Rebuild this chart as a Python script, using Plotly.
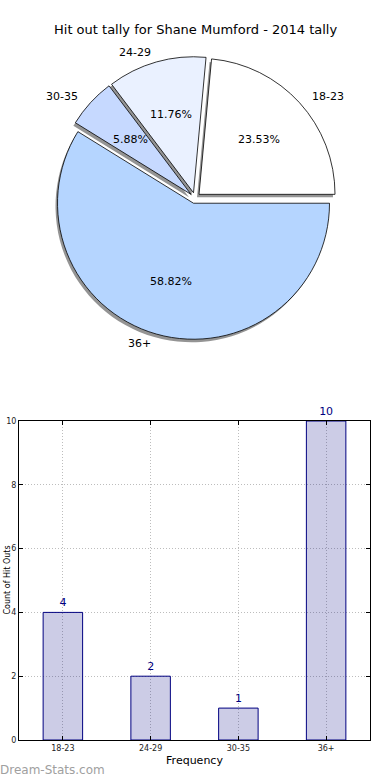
import math
import plotly.graph_objects as go

# ---- data ----
categories = ["18-23", "24-29", "30-35", "36+"]
counts = [4, 2, 1, 10]
pie_colors = ["#FFFFFF", "#EAF1FF", "#C6D9FF", "#B5D5FF"]
title_text = "Hit out tally for Shane Mumford - 2014 tally"
y_title = "Count of Hit Outs"
x_title = "Frequency"
watermark = "Dream-Stats.com"

W, H = 390, 780
FONT = "DejaVu Sans"

# ---- pie geometry (pixels) ----
cx, cy = 195.0, 198.0      # pie centre
R = 136.0                  # pie radius
pull = 0.04
half = R * (1 + pull)
total = sum(counts)
# plotly (counterclockwise): first slice occupies [rotation, rotation + a0] clockwise from 12 o'clock
rotation = 90 - 360 * counts[0] / total

def px_to_paper(x, y):
    return x / W, 1 - y / H

dom_x = [(cx - half) / W, (cx + half) / W]
dom_y = [1 - (cy + half) / H, 1 - (cy - half) / H]
sdx, sdy = -2.0 / W, -3.0 / H
shadow_dom_x = [dom_x[0] + sdx, dom_x[1] + sdx]
shadow_dom_y = [dom_y[0] + sdy, dom_y[1] + sdy]

fig = go.Figure()

fig.add_trace(go.Pie(
    labels=categories, values=counts, sort=False, direction="counterclockwise",
    rotation=rotation, pull=[pull] * len(counts),
    marker=dict(colors=["rgba(90,90,90,0.65)"] * len(counts), line=dict(width=0)),
    textinfo="none", hoverinfo="skip", showlegend=False,
    domain=dict(x=shadow_dom_x, y=shadow_dom_y)))

fig.add_trace(go.Pie(
    labels=categories, values=counts, sort=False, direction="counterclockwise",
    rotation=rotation, pull=[pull] * len(counts),
    marker=dict(colors=pie_colors, line=dict(color="black", width=0.8)),
    textinfo="none", showlegend=False,
    domain=dict(x=dom_x, y=dom_y)))

annotations = []
start = 0.0
for lab, v in zip(categories, counts):
    frac = v / total
    mid = math.radians(360 * (start + frac / 2))
    start += frac
    ox = cx + pull * R * math.cos(mid)
    oy = cy - pull * R * math.sin(mid)
    # outer label
    lx = ox + 1.1 * R * math.cos(mid)
    ly = oy - 1.07 * R * math.sin(mid)
    px, py = px_to_paper(lx, ly)
    annotations.append(dict(x=px, y=py, xref="paper", yref="paper", text=lab,
                            showarrow=False,
                            xanchor="left" if math.cos(mid) > 0 else "right",
                            yanchor="middle",
                            font=dict(family=FONT, size=11, color="black")))
    # percentage
    tx = ox + 0.6 * R * math.cos(mid)
    ty = oy - 0.6 * R * math.sin(mid)
    px, py = px_to_paper(tx, ty)
    annotations.append(dict(x=px, y=py, xref="paper", yref="paper",
                            text=f"{100 * frac:.2f}%", showarrow=False,
                            xanchor="center", yanchor="middle",
                            font=dict(family=FONT, size=11, color="black")))

# title
annotations.append(dict(x=0.5, y=1 - 30 / H, xref="paper", yref="paper",
                        text=title_text, showarrow=False, xanchor="center",
                        yanchor="middle",
                        font=dict(family=FONT, size=13, color="black")))
# y-axis title, hugging the left edge
annotations.append(dict(x=0, y=1 - 580 / H, xref="paper", yref="paper",
                        text=y_title, showarrow=False, textangle=-90,
                        xanchor="left", yanchor="middle",
                        font=dict(family=FONT, size=8, color="black")))
# watermark
annotations.append(dict(x=-2 / W, y=1 - 770 / H, xref="paper", yref="paper",
                        text=watermark, showarrow=False, xanchor="left",
                        yanchor="middle",
                        font=dict(family=FONT, size=12, color="#A0A0A0")))

# ---- bar chart ----
fig.add_trace(go.Bar(
    x=categories, y=counts, width=0.45,
    marker=dict(color="rgba(0,0,128,0.2)", line=dict(color="#000080", width=1)),
    text=[str(c) for c in counts], textposition="outside", cliponaxis=False,
    textfont=dict(family=FONT, size=11, color="#000080"),
    showlegend=False, xaxis="x", yaxis="y"))

axis_common = dict(showline=True, linecolor="black", linewidth=1, mirror="ticks",
                   ticks="inside", ticklen=4, tickcolor="black",
                   showgrid=True, gridcolor="#BDBDBD", griddash="1px,2px", gridwidth=1,
                   tickfont=dict(family=FONT, size=8, color="#222"), zeroline=False,
                   automargin=False)

fig.update_layout(
    width=W, height=H,
    margin=dict(l=0, r=0, t=0, b=0, autoexpand=False),
    paper_bgcolor="white", plot_bgcolor="white",
    annotations=annotations,
    xaxis=dict(domain=[19 / W, 370 / W], anchor="y", range=[-0.5, 3.5],
               type="category",
               title=dict(text=x_title, standoff=4,
                          font=dict(family=FONT, size=11, color="black")),
               **axis_common),
    yaxis=dict(domain=[1 - 740 / H, 1 - 421 / H], anchor="x", range=[0, 10],
               tickmode="array", tickvals=[0, 2, 4, 6, 8, 10],
               **axis_common),
)

fig.write_html("out.html",
               config={"displayModeBar": False},
               post_script="document.body.style.margin='0';document.body.style.padding='0';")
